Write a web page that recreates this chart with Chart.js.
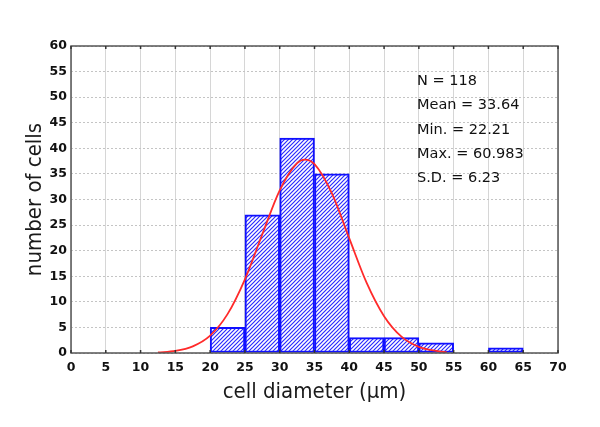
<!DOCTYPE html>
<html>
<head>
<meta charset="utf-8">
<script src="https://cdn.jsdelivr.net/npm/chart.js@4.4.1/dist/chart.umd.min.js"></script>
<style>
  html, body { margin: 0; padding: 0; background: #fff; }
  #wrap { width: 600px; height: 427px; position: relative; }
</style>
</head>
<body>
<div id="wrap"><canvas id="histo"></canvas></div>
<script>
// bins are 5 µm wide, listed by their centre
const binCenters = [22.5, 27.5, 32.5, 37.5, 42.5, 47.5, 52.5, 62.5];
const cellCounts = [5, 27, 42, 35, 3, 3, 2, 1];

// fitted curve
const curveX = [12.5, 15, 17.5, 20, 22.5, 25, 27.5, 30, 32.5, 33.6, 35, 37.5, 40, 42.5, 45, 47.5, 50, 52.5, 54];
const curveY = [0.1, 0.4, 1.3, 3.4, 7.6, 14.4, 23.2, 31.8, 37.1, 37.8, 36.9, 31.2, 22.4, 13.7, 7.2, 3.2, 1.2, 0.4, 0.15];

const statLines = ["N = 118", "Mean = 33.64", "Min. = 22.21", "Max. = 60.983", "S.D. = 6.23"];

const BLUE = "#1010ff";
const RED = "#ff2a2a";

function hatch() {
  const s = 4;
  const c = document.createElement("canvas");
  c.width = s; c.height = s;
  const g = c.getContext("2d");
  g.fillStyle = "#fff";
  g.fillRect(0, 0, s, s);
  g.strokeStyle = "#2b2bff";
  g.lineWidth = 1.2;
  g.beginPath();
  g.moveTo(0, s); g.lineTo(s, 0);
  g.moveTo(-1, 1); g.lineTo(1, -1);
  g.moveTo(s - 1, s + 1); g.lineTo(s + 1, s - 1);
  g.stroke();
  return g.createPattern(c, "repeat");
}

// box round the plot, little tick marks on the x edges, stats text
const extras = {
  id: "extras",
  afterDraw(chart) {
    const { ctx, chartArea: a } = chart;
    ctx.save();
    ctx.strokeStyle = "#555";
    ctx.lineWidth = 1.5;
    ctx.strokeRect(a.left, a.top, a.right - a.left, a.bottom - a.top);
    ctx.strokeStyle = "#333";
    ctx.lineWidth = 1.5;
    ctx.beginPath();
    chart.scales.x.ticks.forEach((t, i) => {
      const px = chart.scales.x.getPixelForTick(i);
      ctx.moveTo(px, a.bottom); ctx.lineTo(px, a.bottom - 3);
      ctx.moveTo(px, a.top); ctx.lineTo(px, a.top + 3);
    });
    ctx.stroke();
    ctx.fillStyle = "#111";
    ctx.font = "14.5px 'DejaVu Sans'";
    ctx.textBaseline = "middle";
    statLines.forEach((t, i) => ctx.fillText(t, 417, 81 + i * 24.4));
    ctx.restore();
  }
};

const tickFont = { family: "DejaVu Sans", size: 12.5, weight: "bold" };

new Chart(document.getElementById("histo"), {
  type: "bar",
  data: {
    datasets: [
      {
        type: "line",
        data: curveX.map((x, i) => ({ x, y: curveY[i] })),
        borderColor: RED,
        borderWidth: 1.8,
        pointRadius: 0,
        tension: 0.4,
        cubicInterpolationMode: "monotone",
        order: 0,
      },
      {
        data: binCenters.map((x, i) => ({ x, y: cellCounts[i] })),
        backgroundColor: hatch(),
        borderColor: BLUE,
        borderWidth: 2,
        borderSkipped: false,
        barPercentage: 1,
        categoryPercentage: 1,
        order: 1,
      },
    ],
  },
  options: {
    responsive: true,
    maintainAspectRatio: false,
    animation: false,
    layout: { padding: { top: 46, right: 42, left: 0, bottom: 0 } },
    plugins: { legend: { display: false }, tooltip: { enabled: false } },
    scales: {
      x: {
        type: "linear",
        min: 0, max: 70,
        offset: false,
        grid: { color: "#d6d6d6", lineWidth: 1, drawTicks: false, offset: false },
        border: { display: false },
        ticks: { stepSize: 5, font: tickFont, color: "#111", padding: 7, maxRotation: 0 },
        title: {
          display: true, text: "cell diameter (µm)", color: "#1a1a1a",
          font: { family: "DejaVu Sans Condensed, DejaVu Sans", size: 22 },
          padding: { top: 0, bottom: 22 },
        },
        afterFit(s) { s.height = 74; },
      },
      y: {
        min: 0, max: 60,
        grid: { color: "#c4c4c4", lineWidth: 1, drawTicks: false },
        border: { display: false, dash: [2, 2] },
        ticks: { stepSize: 5, font: tickFont, color: "#111", padding: 4 },
        title: {
          display: true, text: "number of cells", color: "#1a1a1a",
          font: { family: "DejaVu Sans Condensed, DejaVu Sans", size: 22 },
          padding: { top: 22, bottom: 0 },
        },
        afterFit(s) { s.width = 71; },
      },
    },
  },
  plugins: [extras],
});
</script>
</body>
</html>
